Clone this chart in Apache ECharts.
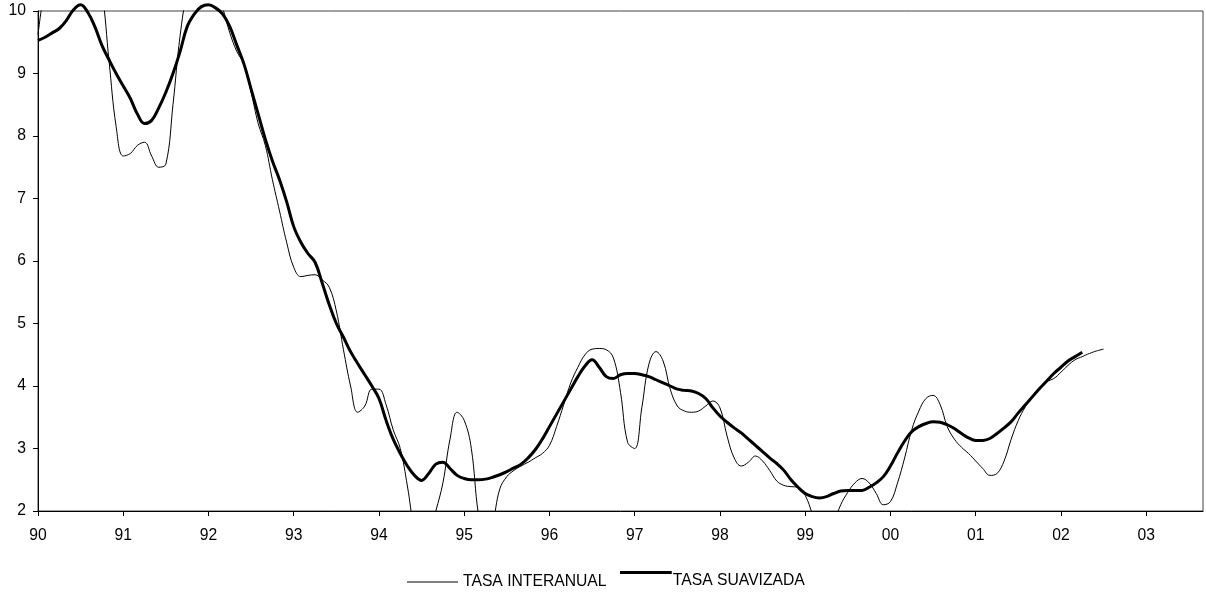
<!DOCTYPE html>
<html>
<head>
<meta charset="utf-8">
<script src="https://cdn.jsdelivr.net/npm/echarts@6/dist/echarts.min.js"></script>
<style>
html,body{margin:0;padding:0;background:#fff;}
#chart{width:1206px;height:596px;}
</style>
</head>
<body>
<div id="chart"></div>
<script>
// Year tick labels (one per January)
var yearLabels = ['90','91','92','93','94','95','96','97','98','99','00','01','02','03'];
var monthCount = 165; // Jan 1990 .. Sep 2003

// TASA INTERANUAL (monthly, from Jan 1990)
var interanual = [
  9.62,10.4,10.8,11.0,11.1,11.1,11.0,10.9,10.7,10.3,
  9.2,8.15,7.68,7.72,7.85,7.9,7.68,7.5,7.55,8.5,
  9.6,10.3,10.6,10.7,10.6,10.4,10.05,9.65,9.35,9.15,
  8.7,8.2,7.85,7.3,6.8,6.3,5.9,5.75,5.77,5.78,
  5.7,5.58,5.2,4.58,4.0,3.58,3.68,3.95,3.95,3.7,
  3.3,3.0,2.4,1.7,1.4,1.6,2.0,2.45,3.15,3.58,
  3.45,3.0,1.95,1.5,1.8,2.35,2.55,2.65,2.72,2.78,
  2.85,2.92,3.05,3.35,3.7,4.05,4.3,4.5,4.59,4.6,
  4.58,4.45,3.9,3.1,3.0,3.65,4.35,4.55,4.4,3.95,
  3.68,3.6,3.58,3.6,3.68,3.76,3.65,3.2,2.85,2.72,
  2.78,2.88,2.8,2.65,2.48,2.41,2.39,2.38,2.25,1.95,
  1.6,1.55,1.8,2.1,2.3,2.45,2.52,2.45,2.28,2.1,
  2.15,2.45,2.85,3.3,3.6,3.8,3.85,3.7,3.35,3.15,
  3.02,2.92,2.8,2.68,2.57,2.6,2.8,3.15,3.45,3.67,
  3.85,3.97,4.07,4.12,4.22,4.33,4.42,4.47,4.52,4.56,
  4.59
];

// TASA SUAVIZADA (monthly, from Jan 1990)
var suavizada = [
  9.53,9.58,9.65,9.72,9.85,10.02,10.1,9.98,9.75,9.45,
  9.22,9.0,8.8,8.6,8.35,8.2,8.25,8.45,8.7,9.0,
  9.35,9.75,9.95,10.07,10.1,10.05,9.95,9.75,9.45,9.15,
  8.75,8.35,7.95,7.6,7.3,6.95,6.55,6.3,6.12,5.98,
  5.65,5.3,5.0,4.78,4.55,4.36,4.18,4.0,3.8,3.45,
  3.15,2.92,2.72,2.57,2.49,2.6,2.75,2.78,2.68,2.57,
  2.52,2.5,2.5,2.51,2.54,2.58,2.63,2.69,2.75,2.85,
  2.98,3.15,3.35,3.55,3.75,3.95,4.15,4.32,4.42,4.3,
  4.15,4.12,4.18,4.2,4.2,4.18,4.15,4.1,4.05,4.0,
  3.95,3.93,3.92,3.88,3.8,3.65,3.52,3.42,3.33,3.25,
  3.15,3.05,2.95,2.85,2.76,2.65,2.5,2.38,2.28,2.23,
  2.21,2.23,2.28,2.32,2.33,2.33,2.33,2.38,2.45,2.55,
  2.72,2.93,3.12,3.27,3.35,3.4,3.43,3.42,3.38,3.32,
  3.24,3.17,3.13,3.13,3.16,3.24,3.33,3.43,3.57,3.7,
  3.83,3.96,4.08,4.2,4.3,4.4,4.47,4.54
];

var categories = [];
for (var i = 0; i < monthCount; i++) {
  categories.push(yearLabels[Math.floor(i / 12)] + '-' + (i % 12 + 1));
}

var FONT = '"Liberation Sans", Arial, sans-serif';
var chart = echarts.init(document.getElementById('chart'), null, {renderer: 'canvas'});
chart.setOption({
  animation: false,
  backgroundColor: '#ffffff',
  grid: {
    left: 38, right: 3, top: 11, bottom: 85,
    show: true, borderColor: '#404040', borderWidth: 1, backgroundColor: 'transparent'
  },
  xAxis: {
    type: 'category',
    data: categories,
    boundaryGap: false,
    axisLine: {lineStyle: {color: '#000', width: 1}},
    axisTick: {interval: 11, length: 5, inside: false, lineStyle: {color: '#000'}},
    axisLabel: {
      interval: 11, margin: 17, color: '#000', fontSize: 15.7, fontFamily: FONT,
      formatter: function (v) { return v.split('-')[0]; }
    },
    splitLine: {show: false}
  },
  yAxis: {
    type: 'value',
    min: 2, max: 10, interval: 1,
    axisLine: {show: true, lineStyle: {color: '#000', width: 1}},
    axisTick: {show: true, length: 5, lineStyle: {color: '#000'}},
    axisLabel: {margin: 12, color: '#000', fontSize: 15.7, fontFamily: FONT},
    splitLine: {show: false}
  },
  legend: [
    {
      data: ['TASA INTERANUAL'],
      left: 402, top: 569,
      icon: 'rect', itemWidth: 51, itemHeight: 1,
      textStyle: {color: '#000', fontSize: 15.7, fontFamily: FONT},
      selectedMode: false
    },
    {
      data: ['TASA SUAVIZADA'],
      left: 615, top: 566,
      icon: 'path://M0,0L52,0L52,3L0,3Z M0,20L0.1,20L0.1,20.1L0,20.1Z',
      itemWidth: 52, itemHeight: 20,
      textStyle: {color: '#000', fontSize: 15.7, fontFamily: FONT, padding: [0, 0, 0, -4]},
      selectedMode: false
    }
  ],
  series: [
    {
      name: 'TASA INTERANUAL',
      type: 'line',
      data: interanual,
      smooth: 0.4,
      showSymbol: false,
      symbol: 'none',
      clip: true,
      lineStyle: {color: '#000', width: 1},
      itemStyle: {color: '#000'},
      z: 2
    },
    {
      name: 'TASA SUAVIZADA',
      type: 'line',
      data: suavizada,
      smooth: 0.4,
      showSymbol: false,
      symbol: 'none',
      clip: false,
      lineStyle: {color: '#000', width: 3},
      itemStyle: {color: '#000'},
      z: 3
    }
  ]
});
</script>
</body>
</html>
